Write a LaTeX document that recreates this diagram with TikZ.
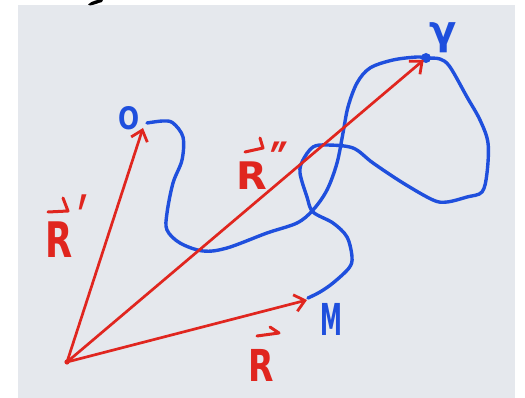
\documentclass[tikz,border=0pt]{standalone}
\usepackage{fontspec}
\setmainfont{DejaVu Sans}
\usetikzlibrary{arrows.meta}
\definecolor{paper}{HTML}{E5E8ED}
\definecolor{ink}{HTML}{1F4FDD}
\definecolor{pen}{HTML}{E0261F}
\begin{document}
\begin{tikzpicture}[x=1pt,y=-1pt,
  vec/.style={draw=pen, line width=2.7pt, line cap=round,
    -{Straight Barb[length=10pt,width=17pt,line width=2.8pt]}},
  harp/.style={draw=pen, line width=3pt, line cap=round, line join=round},
  curve/.style={draw=ink, line width=3.4pt, line cap=round, line join=round},
  redlab/.style={text=pen, inner sep=0pt, anchor=south west},
  bluelab/.style={text=ink, inner sep=0pt, anchor=center}]
\useasboundingbox (0,0) rectangle (525,398);
\fill[white] (0,0) rectangle (525,398);
\fill[paper] (18,5) rectangle (515,398);
% cut-off glyph at the top edge
\fill[black] (88,4.5) .. controls (92,0.5) and (100,-1) .. (103,0) -- (102,2) .. controls (98,3) and (94,5) .. (90,5.5) -- cycle;
% points
\coordinate (o) at (67,362);
\coordinate (O) at (143,128);
\coordinate (M) at (307,300);
\coordinate (g) at (426,58);
% blue curve
\draw[curve] plot[smooth, tension=0.55] coordinates {
 (147,123) (163,121) (173,123) (183,137) (182,160) (173,183) (167,213)
 (167,230) (180,243) (203,251) (227,248) (267,233) (297,223) (313,210)
 (327,190) (337,163) (343,133) (348,107) (357,83) (370,68) (393,60)
 (417,57) (426,58) (440,59) (450,67) (467,97) (480,120) (488,143)
 (487,173) (482,192) (467,197) (447,202) (433,200) (403,183) (373,163)
 (353,148) (327,145) (313,147) (303,160) (300,173) (307,197) (313,212)
 (333,223) (347,237) (352,257) (349,268) (333,283) (320,292) (308,298)};
\fill[ink] (g) circle (5pt);
% vectors
\draw[vec] (o) -- (O);
\draw[vec] (o) -- (M);
\draw[vec, shorten >=3pt] (o) -- (g);
\fill[pen] (o) circle (2.6pt);
% labels
\node[redlab, font=\fontsize{49}{49}\selectfont\bfseries, xscale=0.72] (Lp) at (45,258)
  {R\kern9pt\raisebox{2pt}{\scalebox{1}[1.7]{′}}};
\draw[harp] (48,212) -- (68,211) -- (63,198);
\node[redlab, font=\fontsize{38}{38}\selectfont\bfseries, xscale=1.05] (Lpp) at (236,190)
  {R\kern3pt\raisebox{6pt}{\scalebox{1}[1.5]{″}}};
\draw[harp] (245,152) -- (263,148) -- (260,138);
\node[redlab, font=\fontsize{44}{44}\selectfont\bfseries, xscale=0.75] (L) at (248,382) {R};
\draw[harp] (257,336) -- (279,333) -- (270,327);
\node[bluelab, font=\fontsize{31}{31}\selectfont\bfseries, xscale=0.8] (LO) at (129,118) {O};
\node[bluelab, font=\fontsize{44}{44}\selectfont\bfseries, xscale=0.5] (LM) at (331,319) {M};
\node[bluelab, font=\fontsize{40}{40}\selectfont\bfseries] (Lg) at (443,38) {γ};
\end{tikzpicture}
\end{document}
